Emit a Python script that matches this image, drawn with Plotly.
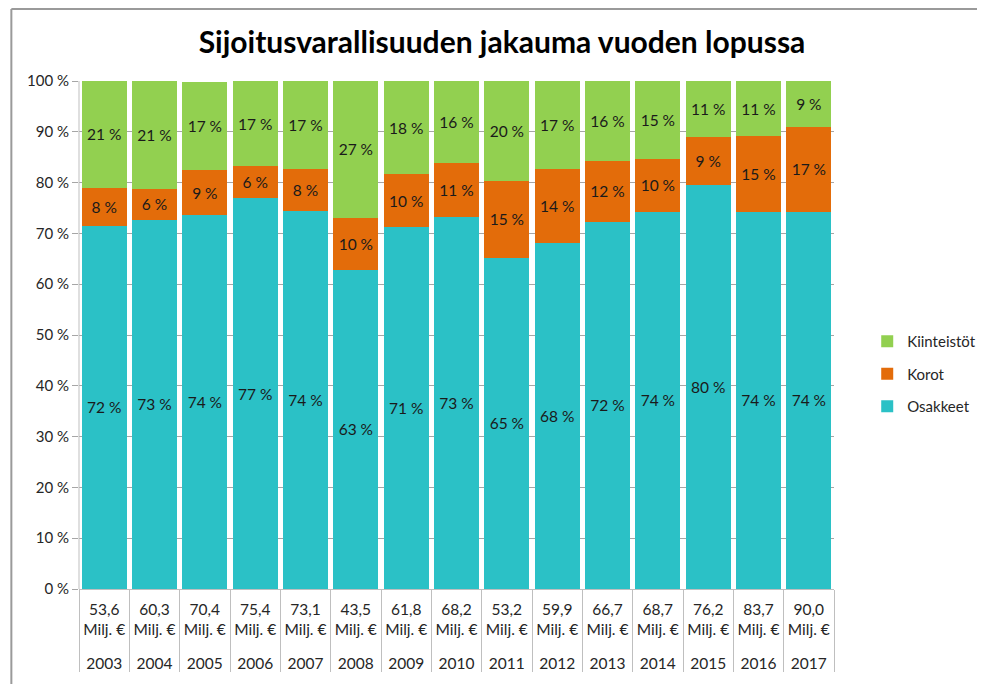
import plotly.graph_objects as go

years = ["2003", "2004", "2005", "2006", "2007", "2008", "2009", "2010",
         "2011", "2012", "2013", "2014", "2015", "2016", "2017"]
totals = ["53,6", "60,3", "70,4", "75,4", "73,1", "43,5", "61,8", "68,2",
          "53,2", "59,9", "66,7", "68,7", "76,2", "83,7", "90,0"]
osakkeet = [71.5, 72.7, 73.6, 76.9, 74.4, 62.8, 71.2, 73.2,
            65.2, 68.2, 72.3, 74.3, 79.6, 74.3, 74.3]
korot = [7.5, 6.0, 8.9, 6.3, 8.2, 10.3, 10.4, 10.6,
         15.2, 14.4, 12.0, 10.3, 9.3, 14.8, 16.7]
kiinteistot = [21.0, 21.3, 17.4, 16.8, 17.4, 26.9, 18.4, 16.2,
               19.6, 17.4, 15.7, 15.4, 11.1, 10.9, 9.0]
ytick_vals = list(range(0, 101, 10))
ytick_text = [f"{v} %" for v in ytick_vals]

inner = [t + "<br>Milj. €<br>\u00a0" for t in totals]
x = [years, inner]

FONT = "Lato"
series = [
    ("Osakkeet", osakkeet, "#2BC1C6", 3),
    ("Korot", korot, "#E36C0A", 2),
    ("Kiinteistöt", kiinteistot, "#92D050", 1),
]

fig = go.Figure()
for name, vals, col, rank in series:
    fig.add_trace(go.Bar(
        x=x, y=vals, name=name, legendgroup=name, legendrank=rank,
        marker=dict(color=col, line=dict(width=0)),
        texttemplate="%{y:.0f} %", textposition="inside",
        insidetextanchor="middle",
        textfont=dict(family=FONT, size=15.5, color="#1a1a1a"),
        hoverinfo="skip",
    ))

fig.update_layout(
    barmode="stack",
    bargap=0.1,
    width=985, height=684,
    margin=dict(l=71, r=133, t=73, b=103),
    paper_bgcolor="white", plot_bgcolor="white",
    font=dict(family=FONT, size=15, color="#262626"),
    title=dict(text="<b>Sijoitusvarallisuuden jakauma vuoden lopussa</b>",
               x=0.5015, xanchor="center", y=0.95, yanchor="middle",
               font=dict(family=FONT, size=30, color="black")),
    legend=dict(x=1.044, xanchor="left", y=0.423, yanchor="middle",
                traceorder="grouped", tracegroupgap=10,
                font=dict(family=FONT, size=15, color="#262626"),
                itemwidth=30),
    xaxis=dict(type="multicategory", showline=True, linecolor="#bfbfbf",
               linewidth=1, showdividers=True, dividercolor="#bfbfbf",
               dividerwidth=1, ticks="", automargin=False, tickangle=0,
               ticklabelstandoff=6,
               tickfont=dict(size=15.5, color="#262626")),
    yaxis=dict(range=[0, 100], tickvals=ytick_vals, ticktext=ytick_text,
               showgrid=True, gridcolor="#a6a6a6", automargin=False,
               gridwidth=1, ticks="outside", ticklen=6, tickcolor="#a6a6a6",
               showline=False, zeroline=False,
               tickfont=dict(size=15, color="#262626")),
)
fig.add_shape(type="line", xref="paper", yref="paper", x0=0, x1=0, y0=0, y1=1,
              line=dict(color="#bfbfbf", width=1))
fig.add_shape(type="line", xref="paper", yref="paper", x0=-0.0896, x1=-0.0896,
              y0=-0.25, y1=1.1417, line=dict(color="#9a9a9a", width=2))
fig.add_shape(type="line", xref="paper", yref="paper", x0=-0.0896, x1=1.2,
              y0=1.1417, y1=1.1417, line=dict(color="#9a9a9a", width=2))
fig.write_html("out.html")
